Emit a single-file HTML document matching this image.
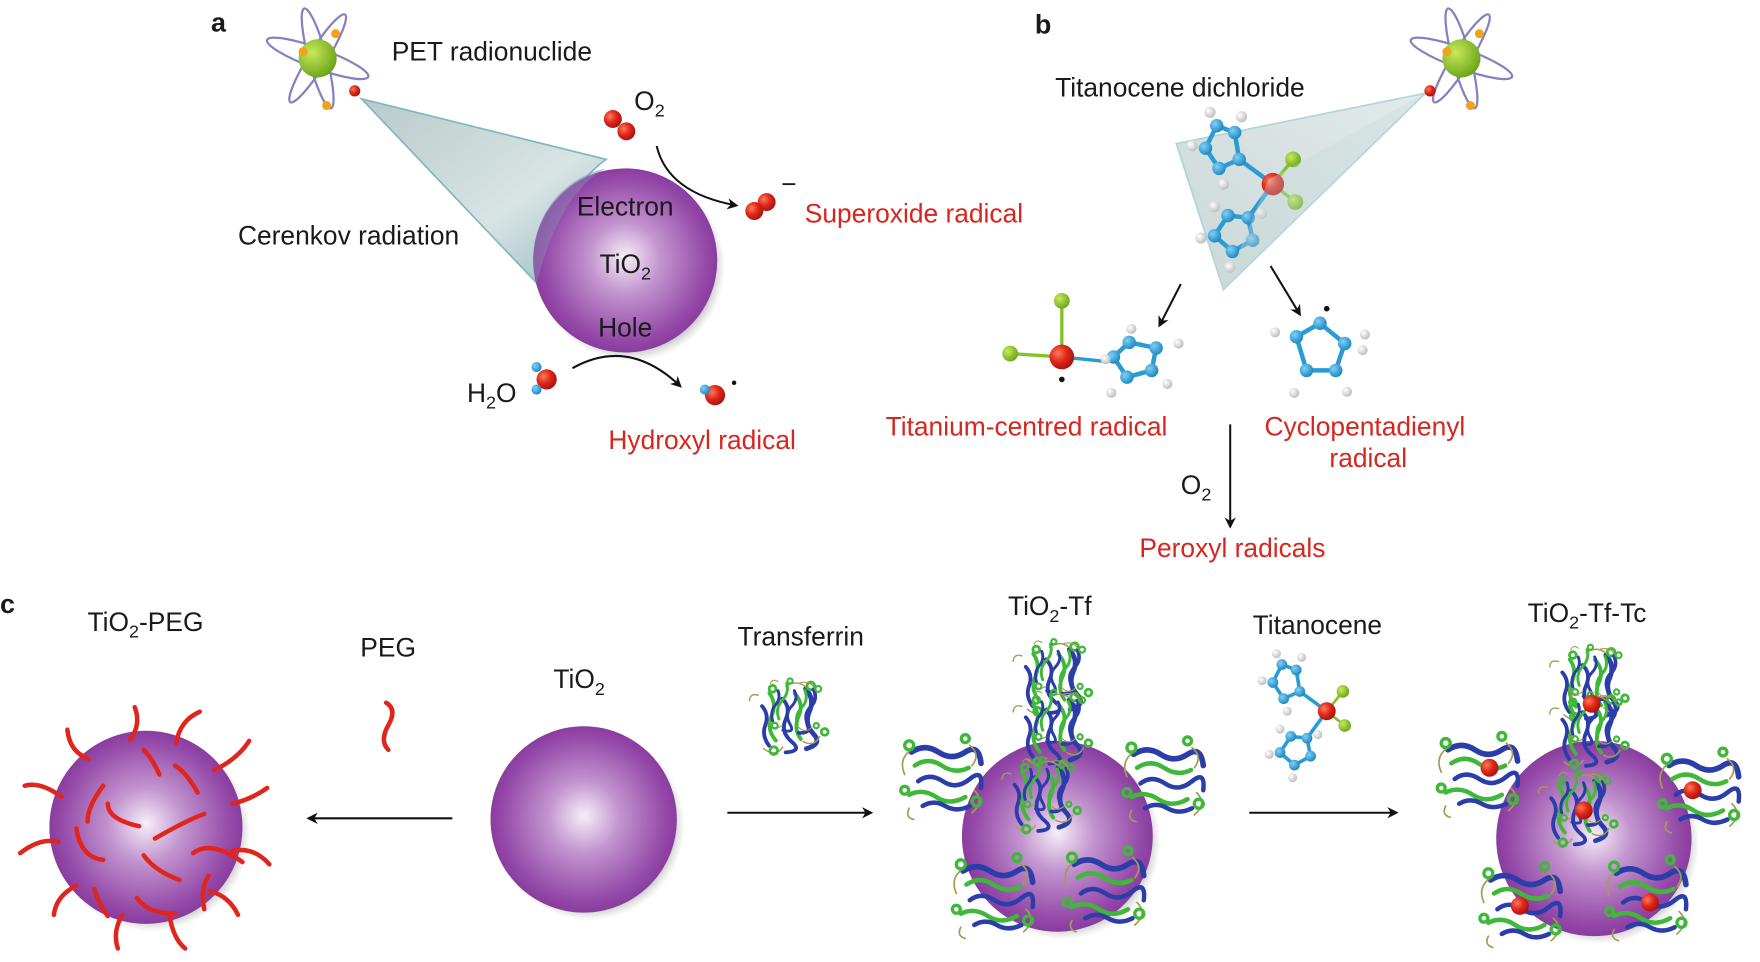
<!DOCTYPE html>
<html><head><meta charset="utf-8"><style>
html,body{margin:0;padding:0;background:#fff;width:1760px;height:962px;overflow:hidden}
svg{display:block}
text{font-family:"Liberation Sans",sans-serif;font-size:23.5px;fill:#1a1a1a}
.r{fill:#d7261e}
.b{font-weight:bold;font-size:24px}
</style></head><body>
<svg width="1760" height="962" viewBox="0 0 1568 857" preserveAspectRatio="none" xmlns="http://www.w3.org/2000/svg">
<defs>
<radialGradient id="sph" cx="0.5" cy="0.5" r="0.55" fx="0.5" fy="0.48">
<stop offset="0" stop-color="#f6eef8"/><stop offset="0.35" stop-color="#c394cf"/><stop offset="0.8" stop-color="#9449a8"/><stop offset="1" stop-color="#803296"/></radialGradient>
<radialGradient id="sh" cx="0.5" cy="0.5" r="0.5"><stop offset="0.8" stop-color="#555" stop-opacity="0.6"/><stop offset="1" stop-color="#888" stop-opacity="0"/></radialGradient>
<linearGradient id="cone" x1="0" y1="0" x2="1" y2="1"><stop offset="0" stop-color="#b9c9c9"/><stop offset="0.6" stop-color="#d9e4e4"/><stop offset="1" stop-color="#8fb7bd"/></linearGradient>
<linearGradient id="cone2" x1="1" y1="0" x2="0" y2="1"><stop offset="0" stop-color="#d0dede"/><stop offset="1" stop-color="#a9bdbd"/></linearGradient>
<radialGradient id="red" cx="0.35" cy="0.35" r="0.7"><stop offset="0" stop-color="#ff7a5a"/><stop offset="0.5" stop-color="#e0281a"/><stop offset="1" stop-color="#a81010"/></radialGradient>
<radialGradient id="blu" cx="0.35" cy="0.35" r="0.7"><stop offset="0" stop-color="#7fd0f5"/><stop offset="1" stop-color="#1a86c2"/></radialGradient>
<radialGradient id="grn" cx="0.35" cy="0.35" r="0.7"><stop offset="0" stop-color="#c8ea5a"/><stop offset="1" stop-color="#6aa41a"/></radialGradient>
<radialGradient id="wht" cx="0.35" cy="0.35" r="0.7"><stop offset="0" stop-color="#fff"/><stop offset="1" stop-color="#bbb"/></radialGradient>
<marker id="ah" markerWidth="10" markerHeight="10" refX="8" refY="5" orient="auto" markerUnits="userSpaceOnUse"><path d="M0,0 L10,5 L0,10 L3,5z" fill="#111"/></marker>
<g id="atom">
<ellipse cx="0" cy="0" rx="48" ry="9" fill="none" stroke="#8580c0" stroke-width="2" transform="rotate(20)"/>
<ellipse cx="0" cy="0" rx="46" ry="8" fill="none" stroke="#8580c0" stroke-width="2" transform="rotate(-58)"/>
<ellipse cx="0" cy="0" rx="46" ry="8" fill="none" stroke="#8580c0" stroke-width="2" transform="rotate(75)"/>
<circle r="17" fill="url(#grn)"/>
<circle cx="-13" cy="-6" r="4" fill="#f3a21c"/><circle cx="16" cy="-22" r="4" fill="#f3a21c"/><circle cx="8" cy="42" r="4" fill="#f3a21c"/>
</g>
<g id="prot" fill="none" stroke-linecap="round">
<path d="M-28,-20 q12,-8 24,0 t24,0 t14,10" stroke="#2b3da8" stroke-width="5"/>
<path d="M-25,-8 q12,-8 24,0 t24,2" stroke="#3fb83a" stroke-width="4"/>
<path d="M-22,6 q10,-8 22,0 t24,-2 t10,8" stroke="#2b3da8" stroke-width="4"/>
<path d="M-30,18 q12,-6 24,2 t26,0" stroke="#3fb83a" stroke-width="4"/>
<path d="M-18,28 q10,-6 20,0 t22,0" stroke="#2b3da8" stroke-width="4"/>
<path d="M-34,0 q-6,-14 6,-22 M24,-26 q10,8 2,18 M28,14 q10,10 -2,20 M-30,30 q-4,8 4,10" stroke="#a89a55" stroke-width="1.5"/>
<circle cx="-30" cy="-26" r="4" stroke="#3fb83a" stroke-width="3"/><circle cx="30" cy="24" r="4" stroke="#3fb83a" stroke-width="3"/><circle cx="-34" cy="14" r="3.5" stroke="#3fb83a" stroke-width="3"/><circle cx="20" cy="-32" r="3.5" stroke="#3fb83a" stroke-width="3"/>
</g>
<g id="tf2"><use href="#prot" transform="rotate(80) scale(0.85)"/><use href="#prot" transform="translate(4,-10) rotate(100) scale(0.65)"/></g>
<g id="titan">
<g stroke="#2a9bd3" stroke-width="4" fill="none">
<path d="M-20,-40 L-30,-20 L-18,-2 L0,-10 L-4,-34 Z"/><path d="M-10,40 L-22,58 L-6,72 L12,62 L8,42 Z"/>
<path d="M0,-10 L30,12 M8,42 L30,12"/></g>
<path d="M30,12 L48,-10 M30,12 L50,28" stroke="#84c22a" stroke-width="3"/>
<g fill="url(#blu)"><circle cx="-20" cy="-40" r="6"/><circle cx="-30" cy="-20" r="6"/><circle cx="-18" cy="-2" r="6"/><circle cx="0" cy="-10" r="6"/><circle cx="-4" cy="-34" r="6"/><circle cx="-10" cy="40" r="6"/><circle cx="-22" cy="58" r="6"/><circle cx="-6" cy="72" r="6"/><circle cx="12" cy="62" r="6"/><circle cx="8" cy="42" r="6"/></g>
<g fill="url(#wht)"><circle cx="-26" cy="-52" r="5"/><circle cx="-42" cy="-22" r="5"/><circle cx="-14" cy="12" r="5"/><circle cx="2" cy="-48" r="5"/><circle cx="-22" cy="32" r="5"/><circle cx="-34" cy="60" r="5"/><circle cx="-8" cy="86" r="5"/><circle cx="20" cy="38" r="5"/></g>
<circle cx="30" cy="12" r="10" fill="url(#red)"/><circle cx="48" cy="-10" r="7" fill="url(#grn)"/><circle cx="50" cy="28" r="7" fill="url(#grn)"/>
</g>
</defs>

<!-- Panel a -->
<text class="b" x="188" y="28">a</text>
<use href="#atom" x="283" y="52"/>
<circle cx="316" cy="81" r="5" fill="url(#red)"/>
<path d="M322,88 L540,142 Q500,170 478,252 Z" fill="url(#cone)" stroke="#7fb8c0" stroke-width="1.5"/>
<circle cx="562" cy="238" r="84" fill="url(#sh)"/>
<circle cx="557" cy="232" r="82" fill="url(#sph)"/>
<path d="M540,150 Q500,170 478,252 A82,82 0 0 1 540,150Z" fill="#8a7fb0" opacity="0.55"/>
<text x="349" y="54">PET radionuclide</text>
<text x="212" y="218">Cerenkov radiation</text>
<text x="557" y="192" text-anchor="middle">Electron</text>
<text x="557" y="243" text-anchor="middle">TiO<tspan dy="6" font-size="16">2</tspan></text>
<text x="557" y="300" text-anchor="middle">Hole</text>
<text x="565" y="98">O<tspan dy="6" font-size="16">2</tspan></text>
<circle cx="546" cy="106" r="8" fill="url(#red)"/><circle cx="558" cy="117" r="8" fill="url(#red)"/>
<path d="M585,130 Q595,172 656,183" fill="none" stroke="#111" stroke-width="1.8" marker-end="url(#ah)"/>
<circle cx="683" cy="180" r="8" fill="url(#red)"/><circle cx="672" cy="188" r="8" fill="url(#red)"/>
<text x="696" y="172" font-size="18">−</text>
<text class="r" x="717" y="198">Superoxide radical</text>
<text x="416" y="358">H<tspan dy="6" font-size="16">2</tspan><tspan dy="-6">O</tspan></text>
<circle cx="478" cy="327" r="4.5" fill="url(#blu)"/><circle cx="487" cy="338" r="9" fill="url(#red)"/><circle cx="478" cy="347" r="4.5" fill="url(#blu)"/>
<path d="M510,328 Q560,300 606,344" fill="none" stroke="#111" stroke-width="1.8" marker-end="url(#ah)"/>
<circle cx="637" cy="352" r="9" fill="url(#red)"/><circle cx="628" cy="347" r="4.5" fill="url(#blu)"/><circle cx="654" cy="341" r="2" fill="#111"/>
<text class="r" x="542" y="400">Hydroxyl radical</text>

<!-- Panel b -->
<text class="b" x="922" y="30">b</text>
<use href="#atom" x="1302" y="52"/>
<text x="940" y="86">Titanocene dichloride</text>
<path d="M1270,83 L1048,128 L1090,258 Z" fill="url(#cone2)" opacity="0.6" stroke="#7fb8c0" stroke-width="1.5"/>
<use href="#titan" x="1104" y="152"/>
<path d="M1270,83 L1130,160 L1090,258 Z" fill="#c8dada" opacity="0.35"/>
<circle cx="1274" cy="81" r="5" fill="url(#red)"/>
<path d="M1052,253 L1033,290" stroke="#111" stroke-width="1.8" marker-end="url(#ah)"/>
<path d="M1132,237 L1158,280" stroke="#111" stroke-width="1.8" marker-end="url(#ah)"/>
<!-- Ti radical -->
<path d="M946,268 L946,318 M900,315 L946,318" stroke="#84c22a" stroke-width="3"/>
<path d="M946,318 L985,322" stroke="#2a9bd3" stroke-width="3"/>
<g stroke="#2a9bd3" stroke-width="4" fill="none"><path d="M992,318 L1006,305 L1030,310 L1026,330 L1004,336 Z"/></g>
<g fill="url(#blu)"><circle cx="992" cy="318" r="6"/><circle cx="1006" cy="305" r="6"/><circle cx="1030" cy="310" r="6"/><circle cx="1026" cy="330" r="6"/><circle cx="1004" cy="336" r="6"/></g>
<g fill="url(#wht)"><circle cx="1008" cy="293" r="4.5"/><circle cx="1050" cy="306" r="4.5"/><circle cx="1040" cy="342" r="4.5"/><circle cx="990" cy="350" r="4.5"/><circle cx="985" cy="320" r="4.5"/></g>
<circle cx="946" cy="318" r="11" fill="url(#red)"/><circle cx="946" cy="268" r="7" fill="url(#grn)"/><circle cx="900" cy="315" r="7" fill="url(#grn)"/>
<circle cx="946" cy="338" r="2.5" fill="#111"/>
<!-- Cp radical -->
<g stroke="#2a9bd3" stroke-width="4" fill="none"><path d="M1155,300 L1176,288 L1198,306 L1190,330 L1164,330 Z"/></g>
<g fill="url(#blu)"><circle cx="1155" cy="300" r="6"/><circle cx="1176" cy="288" r="6"/><circle cx="1198" cy="306" r="6"/><circle cx="1190" cy="330" r="6"/><circle cx="1164" cy="330" r="6"/></g>
<g fill="url(#wht)"><circle cx="1136" cy="296" r="4.5"/><circle cx="1216" cy="298" r="4.5"/><circle cx="1214" cy="312" r="4.5"/><circle cx="1200" cy="349" r="4.5"/><circle cx="1153" cy="350" r="4.5"/></g>
<circle cx="1182" cy="275" r="2.5" fill="#111"/>
<text class="r" x="789" y="388">Titanium-centred radical</text>
<text class="r" x="1216" y="388" text-anchor="middle">Cyclopentadienyl</text>
<text class="r" x="1219" y="416" text-anchor="middle">radical</text>
<path d="M1096,378 L1096,469" stroke="#111" stroke-width="1.8" marker-end="url(#ah)"/>
<text x="1052" y="440">O<tspan dy="6" font-size="16">2</tspan></text>
<text class="r" x="1098" y="496" text-anchor="middle">Peroxyl radicals</text>

<!-- Panel c -->
<text class="b" x="0" y="546">c</text>
<text x="78" y="562">TiO<tspan dy="6" font-size="16">2</tspan><tspan dy="-6">-PEG</tspan></text>
<text x="321" y="585">PEG</text>
<text x="493" y="613">TiO<tspan dy="6" font-size="16">2</tspan></text>
<text x="657" y="575">Transferrin</text>
<text x="898" y="548">TiO<tspan dy="6" font-size="16">2</tspan><tspan dy="-6">-Tf</tspan></text>
<text x="1116" y="565">Titanocene</text>
<text x="1361" y="554">TiO<tspan dy="6" font-size="16">2</tspan><tspan dy="-6">-Tf-Tc</tspan></text>

<circle cx="135" cy="742" r="88" fill="url(#sh)"/><circle cx="130" cy="737" r="86" fill="url(#sph)"/>
<circle cx="525" cy="735" r="85" fill="url(#sh)"/><circle cx="520" cy="730" r="83" fill="url(#sph)"/>
<circle cx="947" cy="750" r="87" fill="url(#sh)"/><circle cx="942" cy="745" r="85" fill="url(#sph)"/>
<circle cx="1425" cy="752" r="89" fill="url(#sh)"/><circle cx="1420" cy="747" r="87" fill="url(#sph)"/>

<g fill="none" stroke="#e0261c" stroke-width="4" stroke-linecap="round">
<path d="M116,659 Q126,645 120,630"/><path d="M157,662 Q160,642 178,634"/><path d="M191,686 Q212,676 222,660"/>
<path d="M79,676 Q62,670 60,650"/><path d="M55,710 Q36,696 22,700"/><path d="M52,750 Q36,746 18,760"/>
<path d="M68,789 Q50,798 48,815"/><path d="M109,815 Q100,830 105,845"/><path d="M151,815 Q154,836 165,845"/>
<path d="M187,794 Q204,798 212,815"/><path d="M207,758 Q226,754 240,770"/><path d="M207,716 Q224,712 238,702"/>
<path d="M92,700 q-14,18 -14,32"/><path d="M96,716 q0,14 28,20"/><path d="M138,747 q28,-16 44,-22"/>
<path d="M68,738 q4,26 24,28"/><path d="M128,762 q10,14 32,22"/><path d="M172,760 q16,-12 44,8"/><path d="M84,792 q4,14 12,24"/><path d="M122,800 q10,14 34,14"/><path d="M186,780 q-8,12 -4,30"/>
<path d="M156,682 q10,6 20,24"/><path d="M128,668 q8,8 14,22"/>
</g>
<path d="M336,650 q10,6 2,20 t0,22" fill="none" stroke="#e0261c" stroke-width="4" stroke-linecap="round" transform="translate(8,-24)"/>

<path d="M403,729 L275,729" stroke="#111" stroke-width="1.8" marker-end="url(#ah)"/>
<path d="M648,724 L776,724" stroke="#111" stroke-width="1.8" marker-end="url(#ah)"/>
<path d="M1113,724 L1244,724" stroke="#111" stroke-width="1.8" marker-end="url(#ah)"/>

<use href="#tf2" x="705" y="640"/>
<use href="#tf2" x="940" y="605"/><use href="#tf2" x="940" y="650"/>
<use href="#prot" x="840" y="690"/>
<use href="#tf2" x="930" y="710"/>
<use href="#prot" x="1038" y="692"/>
<use href="#prot" x="886" y="796"/>
<use href="#prot" x="985" y="790"/>

<use href="#titan" transform="translate(1158,640) scale(0.8) translate(-1158,-640) translate(1158,620)"/>

<use href="#tf2" x="1418" y="610"/><use href="#tf2" x="1418" y="652"/>
<use href="#prot" x="1318" y="688"/>
<use href="#tf2" x="1408" y="722"/>
<use href="#prot" x="1515" y="702"/>
<use href="#prot" x="1356" y="804"/>
<use href="#prot" x="1468" y="798"/>
<g fill="url(#red)"><circle cx="1418" cy="627" r="8"/><circle cx="1327" cy="684" r="8"/><circle cx="1411" cy="722" r="8"/><circle cx="1508" cy="704" r="8"/><circle cx="1354" cy="807" r="8"/><circle cx="1470" cy="804" r="8"/></g>
</svg>
</body></html>
